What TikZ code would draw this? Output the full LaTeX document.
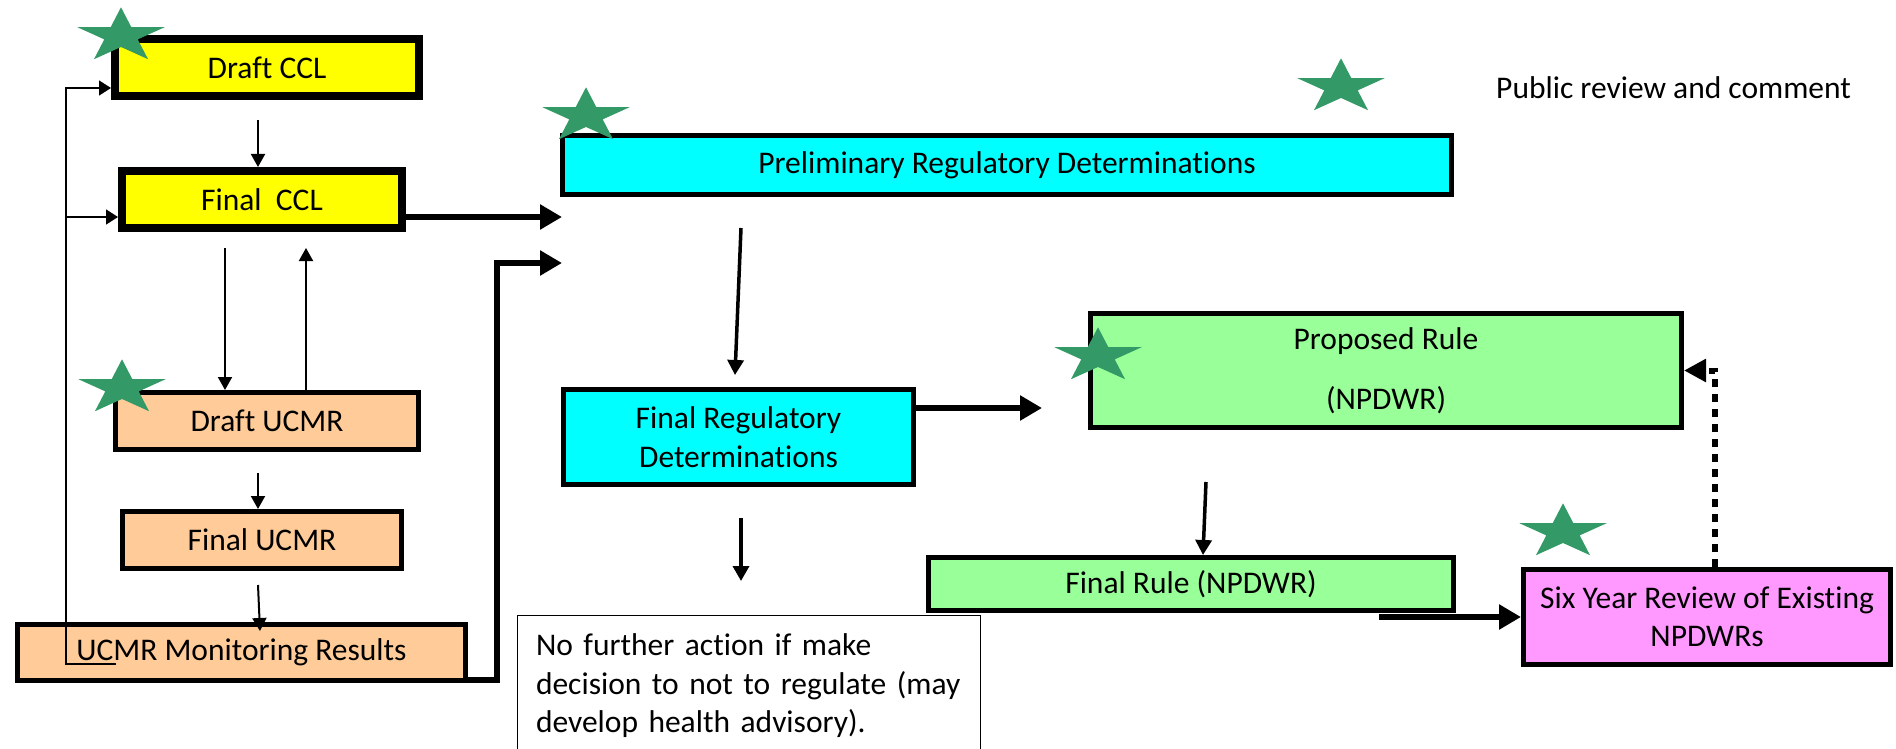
\documentclass[tikz,border=0pt]{standalone}
\usepackage{fontspec}
\setmainfont{Carlito}[Ligatures=NoCommon]
\usetikzlibrary{arrows.meta}

\definecolor{cclyellow}{HTML}{FFFF00}
\definecolor{regcyan}{HTML}{00FFFF}
\definecolor{ucmrpeach}{HTML}{FFCC99}
\definecolor{rulegreen}{HTML}{99FF99}
\definecolor{reviewpink}{HTML}{FF99FF}
\definecolor{stargreen}{HTML}{339966}

\newcommand{\boxfont}{\fontsize{31.5}{38.5}\selectfont}
% flattened five point star, centre given in picture units
\newcommand{\pubstar}[1]{%
  \fill[stargreen, shift={#1}, xscale=46, yscale=-28.7]
    (90:1) \foreach \k in {0,...,4}{ -- ({126+72*\k}:0.382) -- ({162+72*\k}:1) } -- cycle;}

\begin{document}
\begin{tikzpicture}[x=1pt, y=-1pt,
    box/.style={draw=black, line width=5pt, align=center, inner sep=0pt, font=\boxfont},
    cclbox/.style={box, line width=8pt, fill=cclyellow},
    ucmrbox/.style={box, fill=ucmrpeach},
    regbox/.style={box, fill=regcyan},
    rulebox/.style={box, fill=rulegreen},
    reviewbox/.style={box, fill=reviewpink},
    notebox/.style={draw=black, line width=1pt, align=left, inner sep=0pt, font=\boxfont},
    thinarrow/.style={line width=2pt, -{Triangle[length=13pt,width=14pt]}},
    looparrow/.style={line width=1.5pt, -{Triangle[length=12pt,width=15pt]}},
    medarrow/.style={line width=3.5pt, -{Triangle[length=15pt,width=16pt]}},
    bigarrow/.style={line width=6pt, line join=miter, -{Triangle[length=22pt,width=24pt]}},
    dotarrow/.style={line width=6pt, dash pattern=on 8pt off 7pt, -{Triangle[length=22pt,width=22pt]}}]
  \clip (0,0) rectangle (1896,749);

  % left column
  \node[cclbox, minimum width=304pt, minimum height=57pt] (draftccl) at (267,67.5) {Draft CCL};
  \node[cclbox, minimum width=280pt, minimum height=57pt] (finalccl) at (262,199.5) {Final~~CCL};
  \node[ucmrbox, minimum width=303pt, minimum height=57pt] (draftucmr) at (267,421) {Draft UCMR};
  \node[ucmrbox, minimum width=279pt, minimum height=57pt] (finalucmr) at (262,540) {Final UCMR};
  \node[ucmrbox, minimum width=448pt, minimum height=56pt] (results) at (241.5,652.5) {UCMR Monitoring Results};

  % determinations
  \node[regbox, minimum width=889pt, minimum height=59pt] (prelim) at (1007,165) {Preliminary Regulatory Determinations};
  \node[regbox, minimum width=350pt, minimum height=95pt] (finalreg) at (738.5,437) {Final Regulatory\\Determinations};
  \node[notebox, minimum width=463pt, minimum height=142pt, text width=425pt] (noaction) at (748.5,686)
    {No further action if make\\decision to not to regulate (may\\develop health advisory).};

  % rules
  \node[rulebox, minimum width=591pt, minimum height=114pt] (proposed) at (1386,370.5) {Proposed Rule\\[21pt](NPDWR)};
  \node[rulebox, minimum width=525pt, minimum height=53pt] (finalrule) at (1191,584) {Final Rule (NPDWR)};
  \node[reviewbox, minimum width=367pt, minimum height=95pt] (sixyear) at (1707,617) {Six Year Review of Existing\\NPDWRs};

  \node[anchor=west, font=\boxfont, inner sep=0pt] (legend) at (1496,88) {Public review and comment};

  % CCL and UCMR chain
  \coordinate (a1) at (258,120);
  \draw[thinarrow] (a1) -- (a1 |- finalccl.north);
  \coordinate (a2) at (225,248);
  \draw[thinarrow] (a2) -- (a2 |- draftucmr.north);
  \coordinate (a3) at (306,248);
  \draw[thinarrow] (a3 |- draftucmr.north) -- (a3);
  \coordinate (a4) at (258,473);
  \draw[thinarrow] (a4) -- (a4 |- finalucmr.north);
  \coordinate (a5) at (258,585);
  \draw[thinarrow] (a5) -- ([xshift=18.5pt,yshift=-9pt]results.north);

  % feedback loop
  \coordinate (fbend) at (116,664);
  \coordinate (fbcorner) at (66,664);
  \coordinate (fcin) at ([yshift=-17.5pt]finalccl.west);
  \draw[looparrow] (fbend) -- (fbcorner) |- ([yshift=-20.5pt]draftccl.west);
  \draw[looparrow] (fbcorner |- fcin) -- (fcin);

  % into the determinations
  \coordinate (p1) at (562,217);
  \coordinate (p2) at (562,263);
  \coordinate (rcorner) at (497,680);
  \draw[bigarrow] (finalccl.east |- p1) -- (p1);
  \draw[bigarrow] (results.east |- rcorner) -- (rcorner) |- (p2);

  \coordinate (b1) at (741,228);
  \coordinate (b2) at (735,375);
  \draw[medarrow] (b1) -- (b2);
  \coordinate (b3) at (741,518);
  \coordinate (b4) at (741,581);
  \draw[medarrow] (b3) -- (b4);
  \coordinate (b5) at (1042,408);
  \draw[bigarrow] (finalreg.east |- b5) -- (b5);

  % rule making
  \coordinate (c1) at (1206,482);
  \draw[medarrow] (c1) -- ([xshift=12pt]finalrule.north);
  \coordinate (c2) at (1379,617);
  \draw[bigarrow] (c2) -- (c2 -| sixyear.west);
  \draw[dotarrow] ([xshift=8pt]sixyear.north) |- (proposed.east);

  % stars
  \pubstar{(121,36)}
  \pubstar{(122,388)}
  \pubstar{(586,116)}
  \pubstar{(1341,87)}
  \pubstar{(1098,356)}
  \pubstar{(1563,532)}
\end{tikzpicture}
\end{document}
